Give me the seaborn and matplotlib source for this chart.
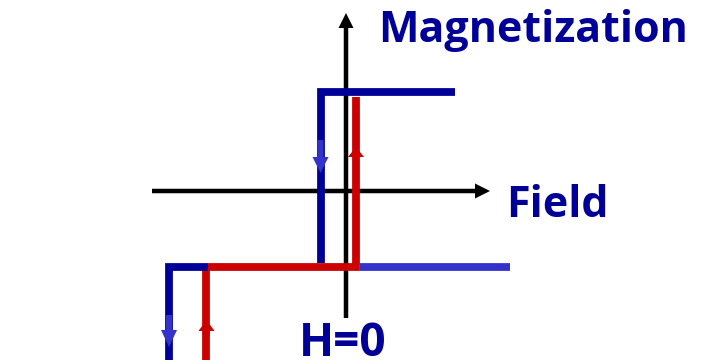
import matplotlib
matplotlib.use('Agg')
import matplotlib.pyplot as plt
import seaborn as sns

# Hysteresis sketch: field H (x) vs magnetization M (y), origin at the axes cross
dark_blue  = '#000099'
light_blue = '#3333cc'
red        = '#cc0000'

# upper loop
down_H = [1.09, -0.25, -0.25]            # blue, descending branch
down_M = [0.99,  0.99, -0.72]
up_H   = [-1.38, 0.10, 0.10]             # red, ascending branch
up_M   = [-0.755, -0.755, 0.94]
sat_H  = [0.14, 1.64]                    # light blue tail on the right
sat_M  = [-0.755, -0.755]

# lower loop (cut by the bottom edge)
low_down_H = [-1.38, -1.77, -1.77]
low_down_M = [-0.755, -0.755, -2.2]
low_up_H   = [-1.395, -1.395]
low_up_M   = [-2.2, -0.79]

# direction arrows: (H, M start, M tip, colour, head length)
arrows = [
    (-0.255, 0.51, 0.18, light_blue, 0.16),
    (-1.77, -1.24, -1.56, light_blue, 0.17),
    (0.10, 0.30, 0.44, red, 0.10),
    (-1.395, -1.45, -1.29, red, 0.11),
]

sns.set_style('white')
plt.rcParams['font.family'] = ['Open Sans', 'DejaVu Sans']

fig = plt.figure(figsize=(7.04, 3.6), dpi=100)
ax = fig.add_axes([0, 0, 1, 1])
ax.set_xlim(-3.46, 3.58)
ax.set_ylim(-1.69, 1.91)
ax.axis('off')

# coordinate axes with arrow heads
ax.arrow(-1.94, 0, 3.38, 0, width=0.045, head_width=0.15, head_length=0.15,
         length_includes_head=True, color='black', lw=0)
ax.arrow(0.0, -1.27, 0, 3.05, width=0.045, head_width=0.15, head_length=0.15,
         length_includes_head=True, color='black', lw=0)

lw = 5.6
kw = dict(sort=False, estimator=None, lw=lw, ax=ax, legend=False)
sns.lineplot(x=down_H, y=down_M, color=dark_blue, **kw)
sns.lineplot(x=sat_H, y=sat_M, color=light_blue, **kw)
sns.lineplot(x=up_H, y=up_M, color=red, **kw)
sns.lineplot(x=low_up_H, y=low_up_M, color=red, **kw)
sns.lineplot(x=low_down_H, y=low_down_M, color=dark_blue, **kw)
for line in ax.lines:
    line.set_solid_capstyle('butt')
    line.set_solid_joinstyle('miter')

for h, m0, m1, c, hl in arrows:
    ax.arrow(h, m0, 0, m1 - m0, width=0.06, head_width=0.16, head_length=hl,
             length_includes_head=True, color=c, lw=0, zorder=3)

tkw = dict(color=dark_blue, fontweight='bold', va='baseline')
ax.text(0.32, 1.49, 'Magnetization', ha='left', fontsize=31, **tkw)
ax.text(1.60, -0.26, 'Field', ha='left', fontsize=31, **tkw)
ax.text(-0.03, -1.65, 'H=0', ha='center', fontsize=33, **tkw)

fig.savefig('out.png', dpi=100)
